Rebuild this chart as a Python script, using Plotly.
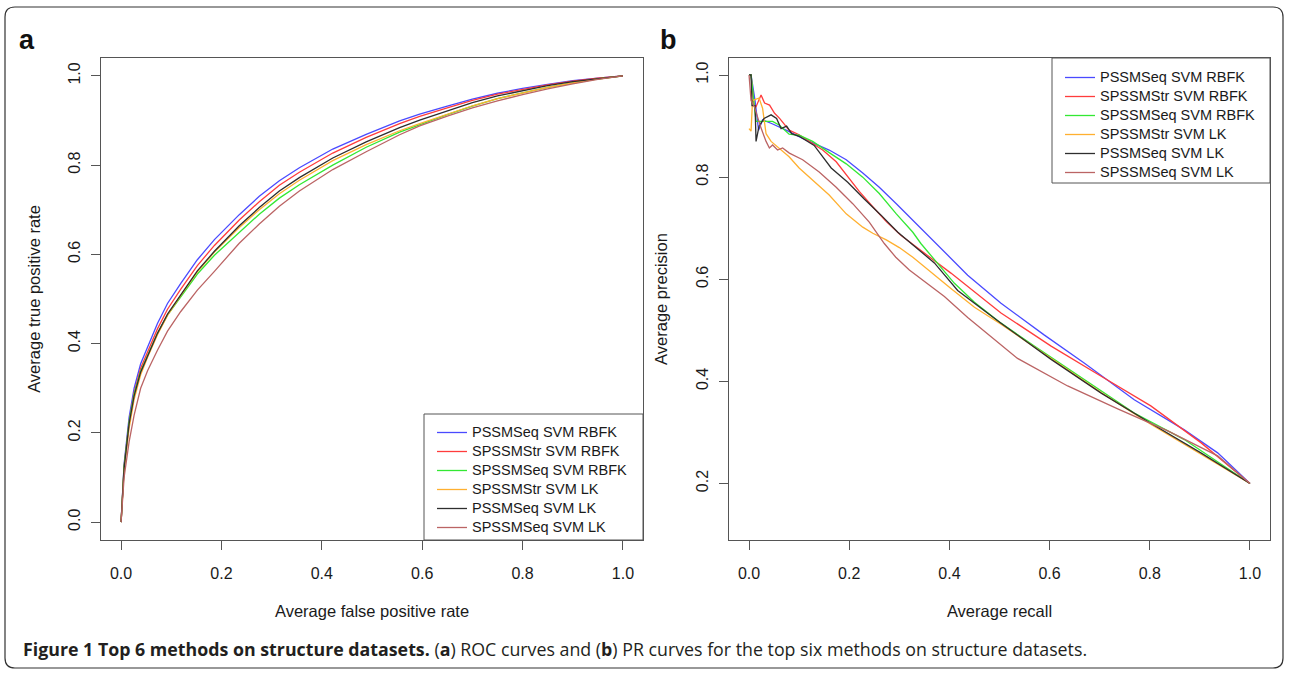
import plotly.graph_objects as go

W, H = 1289, 673

def px(x):
    return x / W

def py(y):
    return 1 - y / H

# ---------------- data ----------------
series_names = [
    "PSSMSeq SVM RBFK",
    "SPSSMStr SVM RBFK",
    "SPSSMSeq SVM RBFK",
    "SPSSMStr SVM LK",
    "PSSMSeq SVM LK",
    "SPSSMSeq SVM LK",
]
series_colors = ["#4a4aff", "#ff3c3c", "#33e833", "#ffb030", "#2e2e2e", "#bb6464"]

# ROC: average false positive rate (x) vs average true positive rate (y)
roc_x_grid = [0.0, 0.006, 0.016, 0.026, 0.039, 0.053, 0.0725, 0.0925, 0.119, 0.152,
              0.186, 0.2355, 0.2754, 0.3154, 0.3553, 0.4218, 0.4884, 0.555, 0.595,
              0.65, 0.70, 0.75, 0.80, 0.85, 0.90, 0.95, 1.0]
roc_y_pssmseq_rbfk = [0.0, 0.130, 0.235, 0.300, 0.355, 0.393, 0.445, 0.490, 0.535, 0.588,
                      0.633, 0.689, 0.730, 0.765, 0.794, 0.836, 0.869, 0.899, 0.914,
                      0.932, 0.948, 0.961, 0.972, 0.981, 0.989, 0.995, 1.0]
roc_y_spssmstr_rbfk = [0.0, 0.125, 0.225, 0.290, 0.345, 0.383, 0.433, 0.477, 0.522, 0.575,
                       0.620, 0.677, 0.718, 0.755, 0.784, 0.827, 0.862, 0.893, 0.909,
                       0.928, 0.945, 0.959, 0.970, 0.980, 0.988, 0.995, 1.0]
roc_y_spssmseq_rbfk = [0.0, 0.125, 0.225, 0.287, 0.338, 0.375, 0.423, 0.464, 0.506, 0.556,
                       0.598, 0.650, 0.690, 0.726, 0.756, 0.800, 0.840, 0.874, 0.891,
                       0.913, 0.932, 0.949, 0.962, 0.974, 0.984, 0.993, 1.0]
roc_y_spssmstr_lk = [0.0, 0.115, 0.210, 0.275, 0.330, 0.370, 0.420, 0.463, 0.508, 0.561,
                     0.605, 0.660, 0.700, 0.736, 0.766, 0.810, 0.846, 0.877, 0.893,
                     0.914, 0.933, 0.949, 0.962, 0.974, 0.984, 0.993, 1.0]
roc_y_pssmseq_lk = [0.0, 0.120, 0.220, 0.283, 0.336, 0.373, 0.423, 0.466, 0.510, 0.563,
                    0.607, 0.664, 0.705, 0.742, 0.772, 0.816, 0.852, 0.884, 0.901,
                    0.921, 0.940, 0.955, 0.967, 0.978, 0.987, 0.994, 1.0]
roc_y_spssmseq_lk = [0.0, 0.100, 0.180, 0.240, 0.300, 0.340, 0.385, 0.428, 0.472, 0.520,
                     0.562, 0.625, 0.668, 0.708, 0.742, 0.790, 0.830, 0.868, 0.888,
                     0.910, 0.928, 0.944, 0.958, 0.971, 0.982, 0.992, 1.0]

# PR: average recall (x) vs average precision (y)
pr_x_pssmseq_rbfk = [0.0, 0.004, 0.012, 0.019, 0.027, 0.045, 0.074, 0.107, 0.16, 0.194,
                     0.227, 0.26, 0.294, 0.327, 0.383, 0.4365, 0.503, 0.589, 0.669,
                     0.769, 0.869, 0.9355, 1.0]
pr_y_pssmseq_rbfk = [1.0, 1.0, 0.95, 0.892, 0.912, 0.905, 0.892, 0.876, 0.853, 0.834,
                     0.808, 0.780, 0.748, 0.716, 0.660, 0.608, 0.553, 0.491, 0.436,
                     0.364, 0.305, 0.260, 0.2]
pr_x_spssmstr_rbfk = [0.0, 0.004, 0.010, 0.014, 0.024, 0.031, 0.041, 0.051, 0.061, 0.080,
                      0.100, 0.127, 0.147, 0.174, 0.194, 0.220, 0.247, 0.274, 0.303,
                      0.333, 0.403, 0.503, 0.603, 0.703, 0.802, 0.902, 1.0]
pr_y_spssmstr_rbfk = [1.0, 1.0, 0.94, 0.938, 0.961, 0.945, 0.941, 0.925, 0.915, 0.892,
                      0.883, 0.866, 0.853, 0.830, 0.805, 0.772, 0.742, 0.713, 0.686,
                      0.664, 0.612, 0.534, 0.469, 0.410, 0.352, 0.280, 0.2]
pr_x_spssmseq_rbfk = [0.0, 0.004, 0.014, 0.047, 0.060, 0.080, 0.100, 0.127, 0.160, 0.194,
                      0.227, 0.260, 0.294, 0.327, 0.343, 0.38, 0.41, 0.45, 0.503,
                      0.5695, 0.669, 0.769, 0.869, 1.0]
pr_y_spssmseq_rbfk = [1.0, 1.0, 0.909, 0.909, 0.902, 0.884, 0.882, 0.870, 0.848, 0.826,
                      0.800, 0.768, 0.728, 0.692, 0.670, 0.628, 0.592, 0.555, 0.514,
                      0.469, 0.403, 0.338, 0.286, 0.2]
pr_x_spssmstr_lk = [0.0, 0.004, 0.007, 0.020, 0.027, 0.034, 0.044, 0.060, 0.080, 0.100,
                    0.127, 0.160, 0.194, 0.227, 0.247, 0.274, 0.300, 0.327, 0.403,
                    0.450, 0.503, 0.603, 0.703, 0.802, 0.902, 1.0]
pr_y_spssmstr_lk = [0.895, 0.89, 0.95, 0.955, 0.935, 0.885, 0.870, 0.857, 0.840, 0.818,
                    0.795, 0.765, 0.728, 0.702, 0.690, 0.677, 0.662, 0.643, 0.582,
                    0.545, 0.512, 0.445, 0.378, 0.316, 0.258, 0.2]
pr_x_pssmseq_lk = [0.0, 0.004, 0.006, 0.012, 0.014, 0.020, 0.030, 0.044, 0.055, 0.064,
                   0.075, 0.085, 0.100, 0.130, 0.164, 0.197, 0.230, 0.263, 0.297,
                   0.337, 0.370, 0.4165, 0.503, 0.603, 0.703, 0.802, 0.902, 1.0]
pr_y_pssmseq_lk = [1.0, 1.0, 0.94, 0.94, 0.870, 0.900, 0.915, 0.922, 0.915, 0.895,
                   0.900, 0.885, 0.880, 0.862, 0.818, 0.790, 0.757, 0.726, 0.692,
                   0.660, 0.632, 0.578, 0.514, 0.443, 0.377, 0.318, 0.260, 0.2]
pr_x_spssmseq_lk = [0.0, 0.004, 0.0106, 0.024, 0.034, 0.0406, 0.047, 0.057, 0.067, 0.0805,
                    0.107, 0.140, 0.174, 0.207, 0.240, 0.270, 0.293, 0.320, 0.390,
                    0.4365, 0.536, 0.636, 0.736, 0.836, 0.9355, 1.0]
pr_y_spssmseq_lk = [1.0, 0.95, 0.938, 0.896, 0.870, 0.857, 0.863, 0.853, 0.857, 0.847,
                    0.834, 0.810, 0.780, 0.748, 0.712, 0.670, 0.643, 0.618, 0.566,
                    0.525, 0.445, 0.391, 0.346, 0.303, 0.254, 0.2]

roc_ys = [roc_y_pssmseq_rbfk, roc_y_spssmstr_rbfk, roc_y_spssmseq_rbfk,
          roc_y_spssmstr_lk, roc_y_pssmseq_lk, roc_y_spssmseq_lk]
pr_xs = [pr_x_pssmseq_rbfk, pr_x_spssmstr_rbfk, pr_x_spssmseq_rbfk,
         pr_x_spssmstr_lk, pr_x_pssmseq_lk, pr_x_spssmseq_lk]
pr_ys = [pr_y_pssmseq_rbfk, pr_y_spssmstr_rbfk, pr_y_spssmseq_rbfk,
         pr_y_spssmstr_lk, pr_y_pssmseq_lk, pr_y_spssmseq_lk]

tick_vals_x = [0.0, 0.2, 0.4, 0.6, 0.8, 1.0]
tick_text_x = ["0.0", "0.2", "0.4", "0.6", "0.8", "1.0"]
tick_vals_pr_y = [0.2, 0.4, 0.6, 0.8, 1.0]
tick_text_pr_y = ["0.2", "0.4", "0.6", "0.8", "1.0"]

# ---------------- figure ----------------
FONT = "Liberation Sans, Arial, Helvetica, sans-serif"
AXC = "#555555"
TXT = "#1a1a1a"
LEG_TEXT_SIZE = 14.5   # rendered size of legend labels
LEG_ROW_FONT = 11.7    # legend font size that sets the (compact) row pitch

def leg_label(name):
    return f'<span style="font-size:{LEG_TEXT_SIZE}px">{name}</span>'

fig = go.Figure()
LW = 1.3
for name, col, ys in zip(series_names, series_colors, roc_ys):
    fig.add_trace(go.Scatter(x=roc_x_grid, y=ys, mode="lines", name=leg_label(name),
                             line=dict(color=col, width=LW), hovertext=name,
                             xaxis="x", yaxis="y", legend="legend"))
for name, col, xs, ys in zip(series_names, series_colors, pr_xs, pr_ys):
    fig.add_trace(go.Scatter(x=xs, y=ys, mode="lines", name=leg_label(name),
                             line=dict(color=col, width=LW), hovertext=name,
                             xaxis="x2", yaxis="y2", legend="legend2"))

def axis_common():
    return dict(showline=True, mirror=True, linecolor=AXC, linewidth=1,
                ticks="outside", ticklen=9, tickcolor=AXC, tickwidth=1,
                showgrid=False, zeroline=False,
                tickfont=dict(family=FONT, size=16, color=TXT))

ydom = [py(540), py(58)]

fig.update_layout(
    width=W, height=H, autosize=False,
    margin=dict(l=0, r=0, t=0, b=0),
    paper_bgcolor="white", plot_bgcolor="white",
    font=dict(family=FONT, color=TXT),
    xaxis=dict(domain=[px(101), px(643)], range=[-0.04, 1.04],
               tickvals=tick_vals_x, ticktext=tick_text_x, anchor="y",
               ticklabelstandoff=10,
               title=dict(text="Average false positive rate", standoff=24,
                          font=dict(family=FONT, size=16.5, color=TXT)),
               **axis_common()),
    yaxis=dict(domain=ydom, range=[-0.04, 1.04],
               tickvals=tick_vals_x, ticktext=tick_text_x, anchor="x",
               tickangle=-90, ticklabelstandoff=5,
               title=dict(text="Average true positive rate", standoff=20,
                          font=dict(family=FONT, size=16.5, color=TXT)),
               **axis_common()),
    xaxis2=dict(domain=[px(729), px(1270)], range=[-0.04, 1.04],
                tickvals=tick_vals_x, ticktext=tick_text_x, anchor="y2",
                ticklabelstandoff=10,
                title=dict(text="Average recall", standoff=24,
                           font=dict(family=FONT, size=16.5, color=TXT)),
                **axis_common()),
    yaxis2=dict(domain=ydom, range=[0.0893, 1.0333],
                tickvals=tick_vals_pr_y, ticktext=tick_text_pr_y, anchor="x2",
                tickangle=-90, ticklabelstandoff=5,
                title=dict(text="Average precision", standoff=21,
                           font=dict(family=FONT, size=16.5, color=TXT)),
                **axis_common()),
    legend=dict(x=px(432), y=py(418), xanchor="left", yanchor="top",
                bgcolor="rgba(0,0,0,0)", borderwidth=0, itemwidth=30,
                tracegroupgap=0, font=dict(family=FONT, size=LEG_ROW_FONT, color=TXT)),
    legend2=dict(x=px(1060), y=py(63), xanchor="left", yanchor="top",
                 bgcolor="rgba(0,0,0,0)", borderwidth=0, itemwidth=30,
                 tracegroupgap=0, font=dict(family=FONT, size=LEG_ROW_FONT, color=TXT)),
    showlegend=True,
)

# legend boxes (R-style) and outer rounded frame
shapes = [
    dict(type="rect", xref="paper", yref="paper", x0=px(424), x1=px(643),
         y0=py(540), y1=py(414), line=dict(color=AXC, width=1)),
    dict(type="rect", xref="paper", yref="paper", x0=px(1052), x1=px(1270),
         y0=py(183), y1=py(58), line=dict(color=AXC, width=1)),
]
r = 10
fx0, fx1, fy0, fy1 = 5, 1283, 7, 668
path = (f"M {px(fx0)},{py(fy0 + r)} "
        f"Q {px(fx0)},{py(fy0)} {px(fx0 + r)},{py(fy0)} "
        f"L {px(fx1 - r)},{py(fy0)} "
        f"Q {px(fx1)},{py(fy0)} {px(fx1)},{py(fy0 + r)} "
        f"L {px(fx1)},{py(fy1 - r)} "
        f"Q {px(fx1)},{py(fy1)} {px(fx1 - r)},{py(fy1)} "
        f"L {px(fx0 + r)},{py(fy1)} "
        f"Q {px(fx0)},{py(fy1)} {px(fx0)},{py(fy1 - r)} Z")
shapes.append(dict(type="path", xref="paper", yref="paper", path=path,
                   line=dict(color="#333333", width=1.2)))
fig.update_layout(shapes=shapes)

annotations = [
    dict(text="<b>a</b>", x=px(27), y=py(40), xref="paper", yref="paper",
         showarrow=False, xanchor="center", yanchor="middle",
         font=dict(family=FONT, size=27, color="#111111")),
    dict(text="<b>b</b>", x=px(668), y=py(40), xref="paper", yref="paper",
         showarrow=False, xanchor="center", yanchor="middle",
         font=dict(family=FONT, size=27, color="#111111")),
    dict(text="<b>Figure 1 Top 6 methods on structure datasets.</b> (<b>a</b>) ROC curves and (<b>b</b>) PR curves for the top six methods on structure datasets.",
         x=px(21), y=py(649), xref="paper", yref="paper", showarrow=False,
         xanchor="left", yanchor="middle",
         font=dict(family="Open Sans, sans-serif", size=17.8, color="#231f20")),
]
fig.update_layout(annotations=annotations)

fig.write_html(
    "out.html",
    config={"displayModeBar": False},
    post_script=("document.documentElement.style.margin='0';"
                 "document.body.style.margin='0';"
                 "document.documentElement.style.overflow='hidden';"
                 "document.body.style.overflow='hidden';"),
)
